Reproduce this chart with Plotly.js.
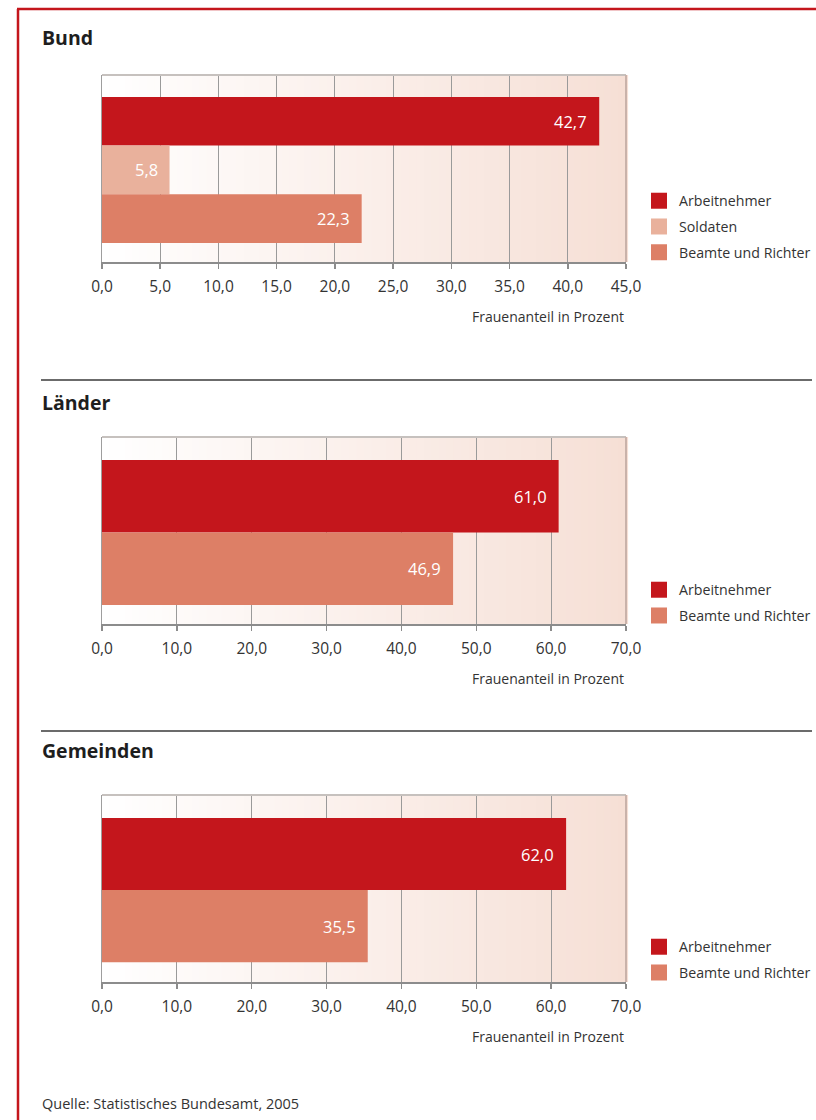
<!DOCTYPE html>
<html>
<head>
<meta charset="utf-8">
<script src="https://cdn.plot.ly/plotly-3.0.1.min.js"></script>
<style>
  html, body { margin: 0; padding: 0; background: #ffffff; overflow: hidden; }
  #wrap { width: 816px; height: 1120px; overflow: hidden; }
  #chart { width: 816px; height: 1120px; }
</style>
</head>
<body>
<div id="wrap"><div id="chart"></div></div>
<script>
// ---------------- Data ----------------
const panelTitles = ['Bund', 'Länder', 'Gemeinden'];
const seriesBund = ['Arbeitnehmer', 'Soldaten', 'Beamte und Richter'];
const valuesBund = [42.7, 5.8, 22.3];
const seriesLaender = ['Arbeitnehmer', 'Beamte und Richter'];
const valuesLaender = [61.0, 46.9];
const seriesGemeinden = ['Arbeitnehmer', 'Beamte und Richter'];
const valuesGemeinden = [62.0, 35.5];
const axisMax = [45, 70, 70];
const axisStep = [5, 10, 10];
const axisTitle = 'Frauenanteil in Prozent';
const sourceText = 'Quelle: Statistisches Bundesamt, 2005';

// ---------------- Styles ----------------
const seriesColors = {
  'Arbeitnehmer': '#c4161c',
  'Soldaten': '#e9b19c',
  'Beamte und Richter': '#dd7f66'
};
const FONT = 'Open Sans, Noto Sans, sans-serif';
const W = 816, H = 1120;
const fx = p => p / W;
const fy = p => 1 - p / H;
const fmt = v => v.toFixed(1).replace('.', ',');

const panels = [
  { top: 75,  bottom: 262, titleY: 38,  sepY: null, axTitleY: 316,  legTop: 185, range: [2.89, -0.95] },
  { top: 437, bottom: 624, titleY: 402, sepY: 380,  axTitleY: 678,  legTop: 574, range: [1.762, -0.817] },
  { top: 795, bottom: 982, titleY: 750, sepY: 731,  axTitleY: 1036, legTop: 931, range: [1.775, -0.82] }
];
const panelSeries = [seriesBund, seriesLaender, seriesGemeinden];
const panelValues = [valuesBund, valuesLaender, valuesGemeinden];

const traces = [];
const layout = {
  width: W, height: H,
  margin: { l: 0, r: 0, t: 0, b: 0, pad: 0, autoexpand: false },
  paper_bgcolor: '#ffffff',
  plot_bgcolor: 'rgba(0,0,0,0)',
  font: { family: FONT, color: '#333333', size: 14 },
  separators: ',.',
  barmode: 'overlay',
  showlegend: true,
  shapes: [],
  annotations: []
};

panels.forEach((p, k) => {
  const sfx = k === 0 ? '' : String(k + 1);
  const xa = 'x' + sfx, ya = 'y' + sfx;
  const legName = 'legend' + sfx;

  layout['xaxis' + sfx] = {
    domain: [fx(102), fx(626)],
    anchor: ya,
    range: [0, axisMax[k]],
    tick0: 0, dtick: axisStep[k],
    tickformat: '.1f',
    showgrid: true, gridcolor: '#9a9a9a', gridwidth: 1,
    zeroline: false,
    showline: true, linecolor: '#8c8c8c', linewidth: 1.5,
    ticks: 'outside', ticklen: 5, tickwidth: 1.5, tickcolor: '#8c8c8c',
    ticklabelstandoff: 5,
    tickfont: { family: FONT, size: 15.5, color: '#333333' },
    automargin: false,
    fixedrange: true
  };
  layout['yaxis' + sfx] = {
    domain: [fy(p.bottom), fy(p.top)],
    anchor: xa,
    type: 'category',
    categoryorder: 'array',
    categoryarray: panelSeries[k],
    range: p.range,
    showticklabels: false, ticks: '',
    showgrid: false, zeroline: false,
    showline: true, linecolor: '#9e9e9e', linewidth: 1.5,
    automargin: false,
    fixedrange: true
  };
  layout[legName] = {
    x: fx(639), xanchor: 'left',
    y: fy(p.legTop), yanchor: 'top',
    bgcolor: 'rgba(0,0,0,0)',
    font: { family: FONT, size: 14.2, color: '#333333' },
    traceorder: 'grouped',
    tracegroupgap: 4.3,
    itemclick: false, itemdoubleclick: false
  };

  // gradient background (stripes in domain coords)
  const N = 70;
  for (let i = 0; i < N; i++) {
    const t = (i + 0.5) / N;
    const r = Math.round(255 - t * 9);
    const g = Math.round(255 - t * 32);
    const b = Math.round(255 - t * 42);
    layout.shapes.push({
      type: 'rect', layer: 'below',
      xref: xa + ' domain', yref: ya + ' domain',
      x0: i / N, x1: (i + 1) / N + 0.004, y0: 0, y1: 1,
      fillcolor: `rgb(${r},${g},${b})`, line: { width: 0 }
    });
  }
  layout.shapes.push({
    type: 'line', xref: xa + ' domain', yref: ya + ' domain',
    x0: 0, x1: 1, y0: 1, y1: 1, line: { color: '#c6c1be', width: 2 }
  });
  layout.shapes.push({
    type: 'line', xref: xa + ' domain', yref: ya + ' domain',
    x0: 1, x1: 1, y0: 0, y1: 1, line: { color: '#c9b2aa', width: 2 }
  });

  if (p.sepY !== null) {
    layout.shapes.push({
      type: 'line', xref: 'paper', yref: 'paper',
      x0: fx(41), x1: fx(812), y0: fy(p.sepY), y1: fy(p.sepY),
      line: { color: '#3a3a3a', width: 1.5 }
    });
  }

  layout.annotations.push({
    text: '<b>' + panelTitles[k] + '</b>',
    xref: 'paper', yref: 'paper', x: fx(40), y: fy(p.titleY),
    xanchor: 'left', yanchor: 'middle', showarrow: false,
    font: { family: FONT, size: 19.5, color: '#1e1e1e' }
  });
  layout.annotations.push({
    text: axisTitle,
    xref: xa + ' domain', yref: 'paper', x: 1, y: fy(p.axTitleY),
    xanchor: 'right', yanchor: 'middle', showarrow: false,
    font: { family: FONT, size: 14, color: '#333333' }
  });

  panelSeries[k].forEach((s, i) => {
    const v = panelValues[k][i];
    traces.push({
      type: 'bar', orientation: 'h',
      x: [v], y: [s],
      xaxis: xa, yaxis: ya,
      width: [1],
      name: s, showlegend: false,
      marker: { color: seriesColors[s], line: { width: 0 } },
      hoverinfo: 'skip'
    });
    layout.annotations.push({
      text: fmt(v),
      xref: xa, yref: ya, x: v, y: s,
      xanchor: 'right', yanchor: 'middle', xshift: -10, showarrow: false,
      font: { family: FONT, size: 16.5, color: '#ffffff' }
    });
    traces.push({
      type: 'scatter', mode: 'markers',
      x: [null], y: [null],
      xaxis: xa, yaxis: ya,
      name: s, legend: legName, legendgroup: legName + '_' + i,
      showlegend: true,
      marker: { symbol: 'square', size: 16, color: seriesColors[s] },
      hoverinfo: 'skip'
    });
  });
});

// red frame
layout.shapes.push({
  type: 'line', xref: 'paper', yref: 'paper',
  x0: fx(18), x1: fx(18), y0: fy(9), y1: 0, line: { color: '#c4161c', width: 2.5 }
});
layout.shapes.push({
  type: 'line', xref: 'paper', yref: 'paper',
  x0: fx(17), x1: 1, y0: fy(9), y1: fy(9), line: { color: '#c4161c', width: 2.5 }
});

layout.annotations.push({
  text: sourceText,
  xref: 'paper', yref: 'paper', x: fx(40), y: fy(1103),
  xanchor: 'left', yanchor: 'middle', showarrow: false,
  font: { family: FONT, size: 14.5, color: '#333333' }
});

Plotly.newPlot('chart', traces, layout, { staticPlot: true, displayModeBar: false });
</script>
</body>
</html>
